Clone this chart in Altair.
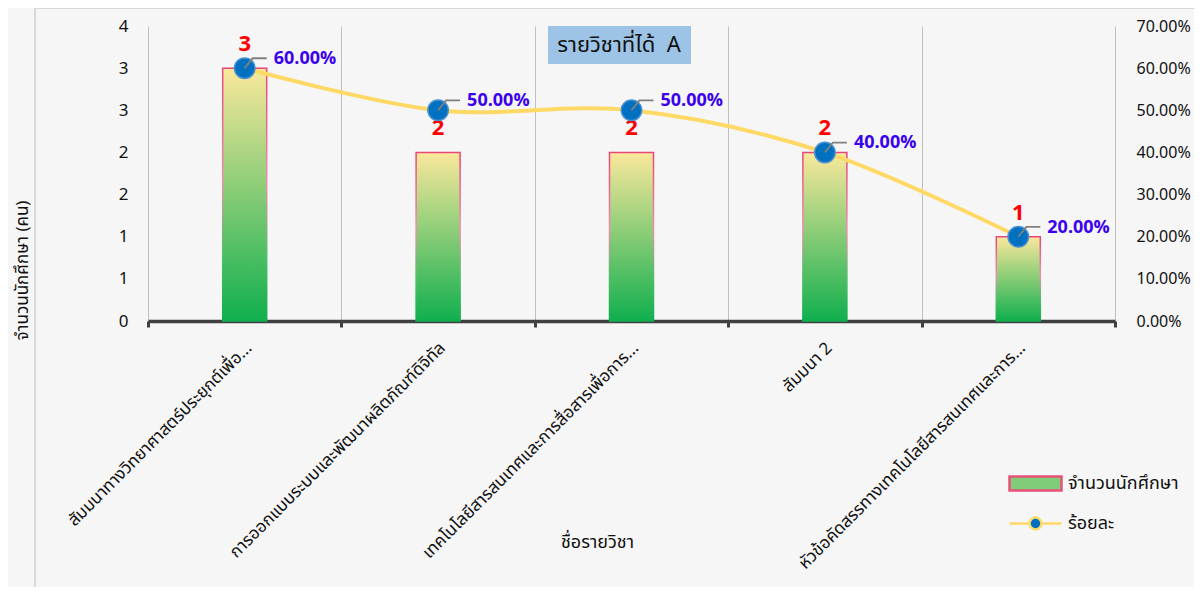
import altair as alt
import pandas as pd

subjects = [
    "สัมมนาทางวิทยาศาสตร์ประยุกต์เพื่อ...",
    "การออกแบบระบบและพัฒนาผลิตภัณฑ์ดิจิทัล",
    "เทคโนโลยีสารสนเทศและการสื่อสารเพื่อการ...",
    "สัมมนา 2",
    "หัวข้อคัดสรรทางเทคโนโลยีสารสนเทศและการ...",
]
students = [3, 2, 2, 2, 1]
percents = [0.60, 0.50, 0.50, 0.40, 0.20]
series_names = ["จำนวนนักศึกษา", "ร้อยละ"]
left_ticks = [0, 0.5, 1, 1.5, 2, 2.5, 3, 3.5]
right_ticks = [0, 0.1, 0.2, 0.3, 0.4, 0.5, 0.6, 0.7]
chart_title = "รายวิชาที่ได้\u00a0\u00a0A"
x_title = "ชื่อรายวิชา"
y_title = "จำนวนนักศึกษา (คน)"

FONT = "Noto Sans Thai, Noto Sans, Lato, sans-serif"
W, H = 967, 295

df = pd.DataFrame({"subject": subjects, "students": students, "pct": percents})

x_enc = alt.X(
    "subject:N",
    sort=subjects,
    scale=alt.Scale(paddingInner=0, paddingOuter=0),
    axis=alt.Axis(
        title=x_title, labelAngle=-45, labelAlign="right", labelBaseline="middle",
        labelFontSize=17, labelPadding=18, labelOffset=4, labelLimit=600,
        labelColor="#111111", tickBand="extent", grid=True, gridColor="#BFBFBF",
        gridWidth=1, domainColor="#404040", domainWidth=3.5, tickColor="#404040",
        tickWidth=3, tickSize=6, titleFontSize=18, titleFontWeight="normal",
        titleColor="#111111", titleX=449, titleY=221, titleBaseline="middle",
    ),
)

y_left = alt.Y(
    "students:Q",
    scale=alt.Scale(domain=[0, 3.5], nice=False),
    axis=alt.Axis(
        values=left_ticks, labelExpr="round(datum.value)", title=y_title,
        grid=False, domain=False, ticks=False, labelFontSize=17, labelPadding=20,
        labelColor="#111111", titleFontSize=17, titleFontWeight="normal",
        titleColor="#111111", titleX=-126, titleY=244, titleBaseline="middle",
    ),
)

y_right = alt.Y(
    "pct:Q",
    scale=alt.Scale(domain=[0, 0.7], nice=False),
    axis=alt.Axis(
        orient="right", values=right_ticks, format=".2%", title=None,
        grid=False, domain=False, ticks=False, labelFontSize=16, labelPadding=21,
        labelColor="#111111",
    ),
)

bar_fill = alt.Gradient(
    gradient="linear",
    stops=[alt.GradientStop(color="#FAE89C", offset=0),
           alt.GradientStop(color="#10AF4E", offset=1)],
    x1=0, x2=0, y1=0, y2=1,
)
bar_stroke = alt.Gradient(
    gradient="linear",
    stops=[alt.GradientStop(color="#E8457A", offset=0),
           alt.GradientStop(color="#EE8FAE", offset=0.45),
           alt.GradientStop(color="#4CC06A", offset=0.75),
           alt.GradientStop(color="#10AF4E", offset=1)],
    x1=0, x2=0, y1=0, y2=1,
)

bars = alt.Chart(df).mark_bar(size=44, fill=bar_fill, stroke=bar_stroke, strokeWidth=1.5).encode(
    x=x_enc, y=y_left)
bar_text = alt.Chart(df).mark_text(dy=-24, color="#FF0000", fontSize=22, fontWeight="bold",
                                   font=FONT).encode(x=x_enc, y=y_left, text="students:Q")
left = alt.layer(bars, bar_text)

line = alt.Chart(df).mark_line(color="#FFD966", strokeWidth=4, interpolate="catmull-rom").encode(
    x=x_enc, y=y_right)
points = alt.Chart(df).mark_point(filled=True, size=420, fill="#0070C0", stroke="#4A90D0",
                                  strokeWidth=1.5, opacity=1).encode(x=x_enc, y=y_right)
leaders = alt.Chart(df).mark_point(shape="M0,0L0.36,-0.45L1,-0.45", size=1936, filled=False,
                                   stroke="#808080", strokeWidth=1.8, opacity=1).encode(
    x=x_enc, y=y_right)
pct_text = alt.Chart(df).mark_text(align="left", dx=29, dy=-9, color="#3B00EE", fontSize=18,
                                   fontWeight="bold", font=FONT).encode(
    x=x_enc, y=y_right, text=alt.Text("pct:Q", format=".2%"))
right = alt.layer(line, points, leaders, pct_text)

one = pd.DataFrame({"t": [chart_title]})
frame_left = alt.Chart(one).mark_rule(color="#D9D9D9", strokeWidth=2).encode(
    x=alt.value(-113), y=alt.value(-18), y2=alt.value(580))
frame_top = alt.Chart(one).mark_rule(color="#D9D9D9", strokeWidth=2).encode(
    x=alt.value(-113), x2=alt.value(1060), y=alt.value(-18))
title_rect = alt.Chart(one).mark_rect(color="#9DC3E6").encode(
    x=alt.value(400), x2=alt.value(543), y=alt.value(0), y2=alt.value(38))
title_text = alt.Chart(one).mark_text(fontSize=22, color="#111111", font=FONT).encode(
    x=alt.value(471), y=alt.value(19), text="t:N")

rect_path = "M-1,-0.27H1V0.27H-1Z"
dot_path = ("M-1,0H-0.23M0.23,0H1M0.23,0A0.23,0.23 0 1,1 -0.23,0"
            "A0.23,0.23 0 1,1 0.23,0Z")
leg = alt.Legend(title=None, orient="none", legendX=860, legendY=430, labelFontSize=18,
                 labelColor="#111111", labelFont=FONT, symbolSize=2704, symbolStrokeWidth=2.5,
                 symbolOpacity=1, rowPadding=-10, labelOffset=5)
legend_df = pd.DataFrame({"series": series_names})
legend_layer = alt.Chart(legend_df).mark_point(filled=True, opacity=1).encode(
    x=alt.value(-3000), y=alt.value(-3000),
    shape=alt.Shape("series:N", scale=alt.Scale(domain=series_names, range=[rect_path, dot_path]),
                    legend=leg),
    fill=alt.Fill("series:N", scale=alt.Scale(domain=series_names, range=["#80CC78", "#0070C0"]),
                  legend=leg),
    stroke=alt.Stroke("series:N", scale=alt.Scale(domain=series_names, range=["#E8507A", "#FFD966"]),
                      legend=leg),
)

chart = alt.layer(
    frame_left, frame_top, left, right, title_rect, title_text, legend_layer
).resolve_scale(y="independent").properties(
    width=W, height=H,
    autosize=alt.AutoSizeParams(type="none"),
    padding={"left": 140, "top": 18, "right": 79, "bottom": 266},
).configure(
    font=FONT, background="#F6F6F6"
).configure_view(stroke="transparent")

chart.save("out.html", embed_options={"renderer": "svg", "actions": False})
